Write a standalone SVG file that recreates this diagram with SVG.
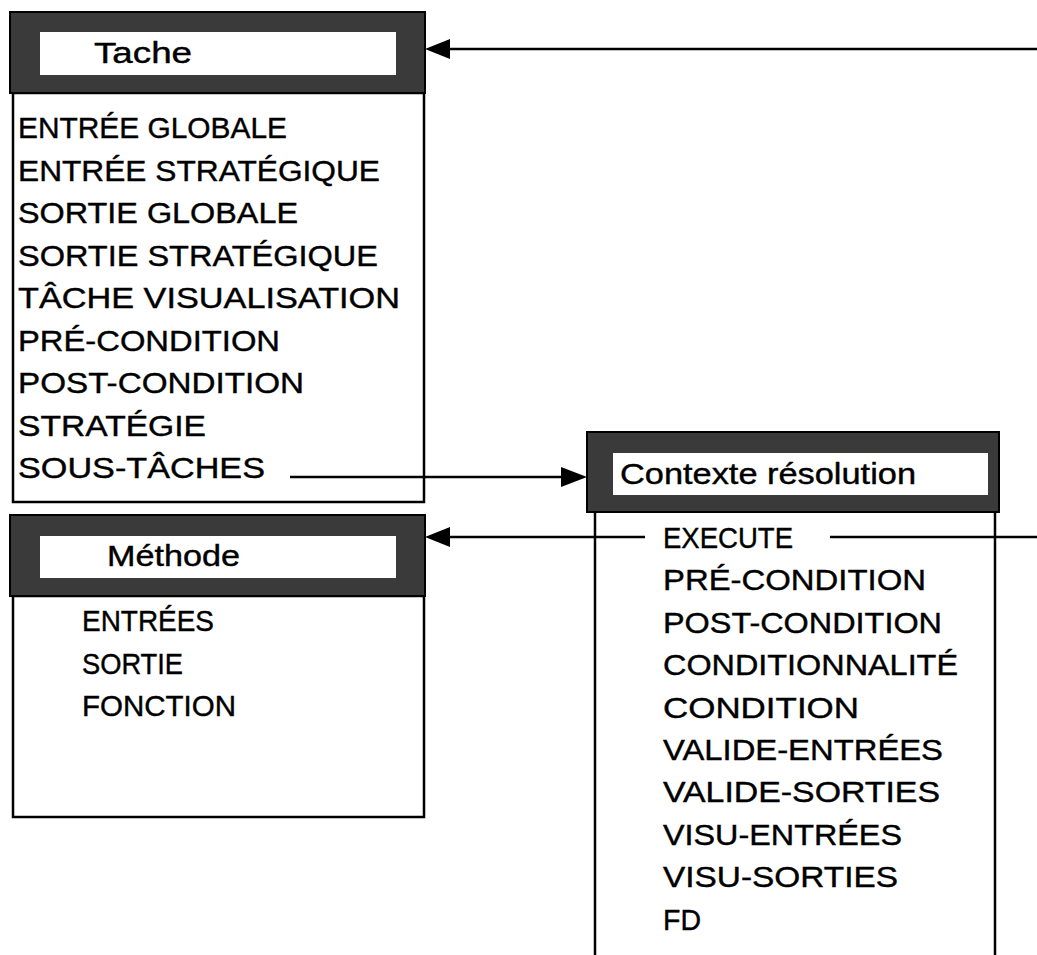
<svg xmlns="http://www.w3.org/2000/svg" width="1037" height="955" viewBox="0 0 1037 955">
<style>
.hdr{fill:#3a3a3a;stroke:#000;stroke-width:2}
.inner{fill:#fff;stroke:none}
.body{fill:#fff;stroke:#000;stroke-width:2.5}
.t{font-family:"Liberation Sans",Arial,sans-serif;font-size:29px;fill:#000;stroke:#000;stroke-width:0.4}
.conn{stroke:#000;stroke-width:2.5;fill:none}
.ah{fill:#000}
</style>
<rect width="1037" height="955" fill="#fff"/>
<g id="tache">
<rect class="body" x="13" y="93" width="411" height="409"/>
<rect class="hdr" x="10" y="12" width="415" height="81"/>
<rect class="inner" x="40" y="32" width="356" height="43"/>
<text class="t" x="94" y="63" textLength="98" lengthAdjust="spacingAndGlyphs">Tache</text>
<text class="t" x="18" y="138" textLength="269" lengthAdjust="spacingAndGlyphs">ENTRÉE GLOBALE</text>
<text class="t" x="18" y="181" textLength="362" lengthAdjust="spacingAndGlyphs">ENTRÉE STRATÉGIQUE</text>
<text class="t" x="18" y="223" textLength="280" lengthAdjust="spacingAndGlyphs">SORTIE GLOBALE</text>
<text class="t" x="18" y="266" textLength="360" lengthAdjust="spacingAndGlyphs">SORTIE STRATÉGIQUE</text>
<text class="t" x="18" y="308" textLength="382" lengthAdjust="spacingAndGlyphs">TÂCHE VISUALISATION</text>
<text class="t" x="18" y="351" textLength="262" lengthAdjust="spacingAndGlyphs">PRÉ-CONDITION</text>
<text class="t" x="18" y="393" textLength="286" lengthAdjust="spacingAndGlyphs">POST-CONDITION</text>
<text class="t" x="18" y="436" textLength="188" lengthAdjust="spacingAndGlyphs">STRATÉGIE</text>
<text class="t" x="18" y="478" textLength="247" lengthAdjust="spacingAndGlyphs">SOUS-TÂCHES</text>
</g>
<g id="methode">
<rect class="body" x="13" y="596" width="411" height="221"/>
<rect class="hdr" x="10" y="515" width="415" height="81"/>
<rect class="inner" x="40" y="536" width="356" height="42"/>
<text class="t" x="107" y="566" textLength="133" lengthAdjust="spacingAndGlyphs">Méthode</text>
<text class="t" x="82" y="631" textLength="132" lengthAdjust="spacingAndGlyphs">ENTRÉES</text>
<text class="t" x="82" y="674" textLength="101" lengthAdjust="spacingAndGlyphs">SORTIE</text>
<text class="t" x="82" y="716" textLength="154" lengthAdjust="spacingAndGlyphs">FONCTION</text>
</g>
<g id="contexte">
<path class="body" d="M595,512 V960 H995 V512"/>
<rect class="hdr" x="587" y="432" width="412" height="80"/>
<rect class="inner" x="613" y="453" width="375" height="42"/>
<text class="t" x="620" y="484" textLength="296" lengthAdjust="spacingAndGlyphs">Contexte résolution</text>
<text class="t" x="663" y="548" textLength="130" lengthAdjust="spacingAndGlyphs">EXECUTE</text>
<text class="t" x="663" y="590" textLength="263" lengthAdjust="spacingAndGlyphs">PRÉ-CONDITION</text>
<text class="t" x="663" y="633" textLength="279" lengthAdjust="spacingAndGlyphs">POST-CONDITION</text>
<text class="t" x="663" y="675" textLength="295" lengthAdjust="spacingAndGlyphs">CONDITIONNALITÉ</text>
<text class="t" x="663" y="718" textLength="196" lengthAdjust="spacingAndGlyphs">CONDITION</text>
<text class="t" x="663" y="760" textLength="280" lengthAdjust="spacingAndGlyphs">VALIDE-ENTRÉES</text>
<text class="t" x="663" y="802" textLength="277" lengthAdjust="spacingAndGlyphs">VALIDE-SORTIES</text>
<text class="t" x="663" y="845" textLength="239" lengthAdjust="spacingAndGlyphs">VISU-ENTRÉES</text>
<text class="t" x="663" y="887" textLength="235" lengthAdjust="spacingAndGlyphs">VISU-SORTIES</text>
<text class="t" x="663" y="930" textLength="38" lengthAdjust="spacingAndGlyphs">FD</text>
</g>
<g id="connectors">
<line class="conn" x1="1037" y1="49" x2="448" y2="49"/>
<polygon class="ah" points="425,49 450,39 450,59"/>
<line class="conn" x1="290" y1="477" x2="562" y2="477"/>
<polygon class="ah" points="587,477 561,467 561,487"/>
<line class="conn" x1="1037" y1="537" x2="830" y2="537"/>
<line class="conn" x1="645" y1="537" x2="448" y2="537"/>
<polygon class="ah" points="425,537 450,527 450,547"/>
</g>
</svg>
